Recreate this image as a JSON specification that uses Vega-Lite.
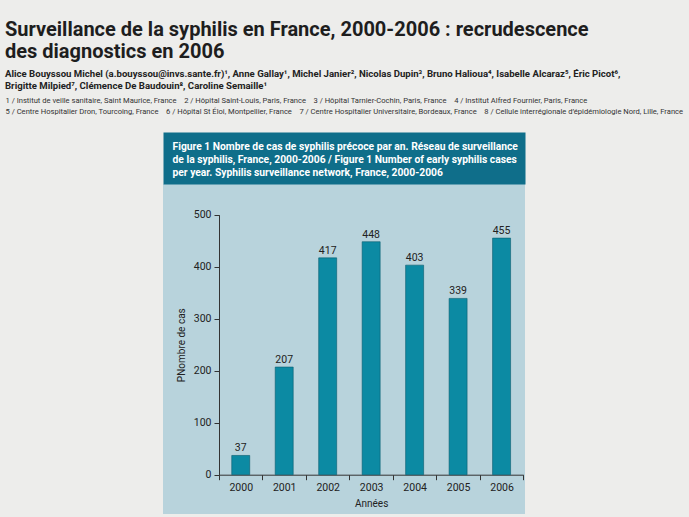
{
  "$schema": "https://vega.github.io/schema/vega-lite/v6.json",
  "autosize": {"type": "none"},
  "width": 362,
  "height": 330,
  "padding": {"left": 163, "top": 184, "right": 164, "bottom": 3},
  "background": "#ededeb",
  "config": {
    "view": {"fill": "#b8d3dc", "stroke": null},
    "font": "Roboto, Liberation Sans, sans-serif"
  },
  "title": {
    "text": ["Surveillance de la syphilis en France, 2000-2006 : recrudescence", "des diagnostics en 2006"],
    "subtitle": [
      "Alice Bouyssou Michel (a.bouyssou@invs.sante.fr)¹, Anne Gallay¹, Michel Janier², Nicolas Dupin³, Bruno Halioua⁴, Isabelle Alcaraz⁵, Éric Picot⁶,",
      "Brigitte Milpied⁷, Clémence De Baudouin⁸, Caroline Semaille¹"
    ],
    "anchor": "start",
    "frame": "group",
    "dx": -158,
    "offset": 6,
    "font": "Roboto, Liberation Sans, sans-serif",
    "fontSize": 20,
    "fontWeight": "bold",
    "color": "#1e1e1e",
    "lineHeight": 22,
    "subtitleFont": "Roboto, Liberation Sans, sans-serif",
    "subtitleFontSize": 9.6,
    "subtitleFontWeight": "bold",
    "subtitleColor": "#222222",
    "subtitleLineHeight": 12.3,
    "subtitlePadding": 7
  },
  "data": {
    "values": [
      {"annee": "2000", "cas": 37},
      {"annee": "2001", "cas": 207},
      {"annee": "2002", "cas": 417},
      {"annee": "2003", "cas": 448},
      {"annee": "2004", "cas": 403},
      {"annee": "2005", "cas": 339},
      {"annee": "2006", "cas": 455}
    ]
  },
  "layer": [
    {
      "mark": {"type": "bar", "width": {"band": 0.414}, "color": "#0c8aa3", "stroke": "#0a5d6e", "strokeWidth": 0.6},
      "encoding": {
        "x": {
          "field": "annee",
          "type": "ordinal",
          "scale": {"type": "band", "range": [56, 360.3], "paddingInner": 0, "paddingOuter": 0},
          "axis": {
            "orient": "bottom",
            "offset": -39.3,
            "tickBand": "extent",
            "tickSize": 5,
            "tickColor": "#333333",
            "domainColor": "#333333",
            "labelAngle": 0,
            "labelFontSize": 10.5,
            "labelColor": "#222222",
            "labelPadding": 3,
            "title": "Années",
            "titleFontSize": 10,
            "titleFontWeight": "normal",
            "titleColor": "#222222",
            "titlePadding": 5,
            "grid": false
          }
        },
        "y": {
          "field": "cas",
          "type": "quantitative",
          "scale": {"domain": [0, 500], "range": [290.7, 30.7], "nice": false},
          "axis": {
            "orient": "left",
            "offset": -56,
            "values": [0, 100, 200, 300, 400, 500],
            "tickSize": 5,
            "tickColor": "#333333",
            "domainColor": "#333333",
            "labelFontSize": 10.5,
            "labelColor": "#222222",
            "labelPadding": 3,
            "title": "PNombre de cas",
            "titleFontSize": 10,
            "titleFontWeight": "normal",
            "titleColor": "#222222",
            "titlePadding": 7,
            "grid": false
          }
        }
      }
    },
    {
      "mark": {"type": "text", "baseline": "bottom", "dy": -2, "fontSize": 10.5, "color": "#222222"},
      "encoding": {
        "x": {
          "field": "annee",
          "type": "ordinal",
          "scale": {"type": "band", "paddingInner": 0, "paddingOuter": 0.664, "align": 0.9705},
          "axis": {
            "orient": "top",
            "offset": 26,
            "domain": true,
            "domainColor": "#0f6e8a",
            "domainWidth": 52,
            "domainCap": "butt",
            "ticks": false,
            "labels": false,
            "grid": false,
            "title": [
              "Figure 1 Nombre de cas de syphilis précoce par an. Réseau de surveillance",
              "de la syphilis, France, 2000-2006 / Figure 1 Number of early syphilis cases",
              "per year. Syphilis surveillance network, France, 2000-2006"
            ],
            "titleColor": "#ffffff",
            "titleFontSize": 10.3,
            "titleFontWeight": "bold",
            "titleLineHeight": 13.3,
            "titleAlign": "left",
            "titleAnchor": "start",
            "titleBaseline": "alphabetic",
            "titleX": 9,
            "titleY": -9
          }
        },
        "y": {
          "field": "cas",
          "type": "quantitative",
          "axis": {
            "orient": "right",
            "domain": false,
            "ticks": false,
            "labels": false,
            "grid": false,
            "title": [
              "1 / Institut de veille sanitaire, Saint Maurice, France\u00a0\u00a0\u00a0 2 / Hôpital Saint-Louis, Paris, France\u00a0\u00a0\u00a0 3 / Hôpital Tarnier-Cochin, Paris, France\u00a0\u00a0\u00a0 4 / Institut Alfred Fournier, Paris, France",
              "5 / Centre Hospitalier Dron, Tourcoing, France\u00a0\u00a0\u00a0 6 / Hôpital St Éloi, Montpellier, France\u00a0\u00a0\u00a0 7 / Centre Hospitalier Universitaire, Bordeaux, France\u00a0\u00a0\u00a0 8 / Cellule interrégionale d’épidémiologie Nord, Lille, France"
            ],
            "titleAngle": 0,
            "titleAlign": "left",
            "titleAnchor": "start",
            "titleBaseline": "alphabetic",
            "titleX": -520,
            "titleY": -81.5,
            "titleFontSize": 7.6,
            "titleFontWeight": "normal",
            "titleColor": "#333333",
            "titleLineHeight": 11
          }
        },
        "text": {"field": "cas", "type": "quantitative"}
      }
    }
  ],
  "resolve": {"scale": {"x": "independent"}, "axis": {"x": "independent", "y": "independent"}}
}
